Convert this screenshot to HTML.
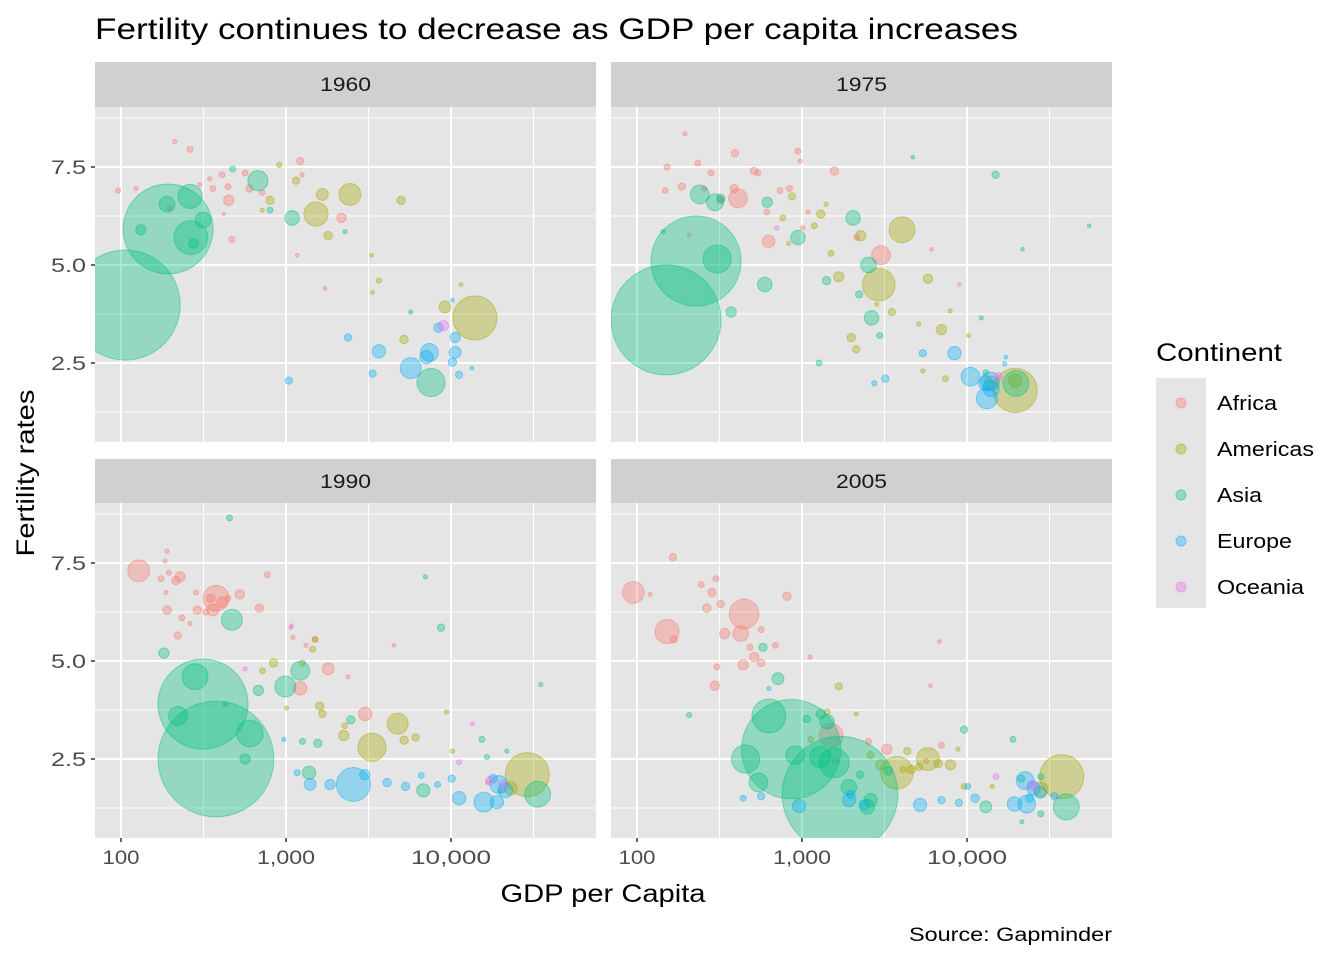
<!DOCTYPE html>
<html><head><meta charset="utf-8"><style>
body{margin:0;background:#fff;font-family:"Liberation Sans",Arial,sans-serif}
svg text{font-family:"Liberation Sans",Arial,sans-serif}
</style></head><body>
<svg id="c" width="1344" height="960" xmlns="http://www.w3.org/2000/svg">
<text x="95" y="39" font-size="30" fill="#000" textLength="923" lengthAdjust="spacingAndGlyphs">Fertility continues to decrease as GDP per capita increases</text>
<text transform="translate(34,473) rotate(-90)" text-anchor="middle" font-size="25" fill="#000" textLength="167" lengthAdjust="spacingAndGlyphs">Fertility rates</text>
<text x="603" y="902" text-anchor="middle" font-size="25" fill="#000" textLength="205" lengthAdjust="spacingAndGlyphs">GDP per Capita</text>
<text x="1112" y="941" text-anchor="end" font-size="19" fill="#000" textLength="203" lengthAdjust="spacingAndGlyphs">Source: Gapminder</text>
<g id="legend">
<text x="1156" y="361" font-size="25" fill="#000" textLength="126" lengthAdjust="spacingAndGlyphs">Continent</text>
</g>
</svg>
<script>
const continents=["Africa","Americas","Asia","Europe","Oceania"];
const colors=["#F8766D","#A3A500","#00BF7D","#00B0F6","#E76BF3"];
const years=["1960","1975","1990","2005"];
const xTicks=[100,1000,10000];
const xTickLabels=["100","1,000","10,000"];
const yTicks=[2.5,5.0,7.5];
const yTickLabels=["2.5","5.0","7.5"];
// 1960
const gdp1960=[212,262,96,123,300,360,410,445,565,600,450,717,1220,1250,2170,470,1720,1170,345,198,1520,2440,1660,1150,910,800,717,1800,4990,3660,3300,3350,5190,9200,13960,11500,106,193,265,262,314,190,132,676,1090,275,475,800,2280,5700,7570,2380,3660,3350,5700,7400,7100,10600,10600,8400,11200,10200,13400,1040,10200,9000,420];
const fert1960=[8.15,7.95,6.9,6.95,7.05,6.95,7.3,7.0,7.35,6.95,6.65,6.85,7.65,7.3,6.2,5.65,4.4,5.25,7.2,6.45,6.3,6.8,6.8,7.15,7.55,6.65,6.4,5.75,6.65,4.6,5.25,4.3,3.1,3.93,3.65,4.5,3.98,5.92,5.7,6.75,6.15,6.55,5.9,7.15,6.2,5.55,7.45,6.4,5.85,3.8,2.0,3.15,2.8,2.23,2.37,2.77,2.65,2.77,3.15,3.4,2.2,2.52,2.37,2.05,4.1,3.45,6.3];
const cont1960=[0,0,0,0,0,0,0,0,0,0,0,0,0,0,0,0,0,0,0,0,1,1,1,1,1,1,1,1,1,1,1,1,1,1,1,1,2,2,2,2,2,2,2,2,2,2,2,2,2,2,2,3,3,3,3,3,3,3,3,3,3,3,3,3,3,4,4];
const pop1960=[1,2,1.5,1,1,2,2,2,2,3,6,2,3,1,5,2,0.8,0.5,1,2,33,27,8,3,1.5,4,1,4,4,1.5,0.8,0.5,4,8,110,0.5,686,459,65,33,14,14,6,23,12,5,2,2,1,1,45,3,10,3,25,18,10,8,6,5,3,4,0.5,3,0.5,6,0.5];
// 1975
const gdp1975=[195,152,148,187,234,281,392,410,388,512,540,612,627,945,975,735,840,1570,1010,1090,6090,207,255,322,3010,2150,4040,2920,2270,1500,1300,870,765,830,1190,1400,1670,1990,2130,3500,5100,7000,5800,7900,10200,14000,19600,19600,2840,5400,7400,150,228,306,240,297,322,615,945,2040,2530,2640,595,372,1410,2220,1270,2960,4700,14900,55000,21700,12200,13000,19800,144,8400,10500,13200,13800,13000,14000,5400,3200,2740,17200,16900,705,9000,15500];
const fert1975=[8.35,7.5,6.9,7.0,7.6,7.35,7.85,6.7,6.95,7.4,7.35,6.35,5.6,7.9,7.65,6.9,6.95,7.4,5.95,6.35,5.4,5.77,6.95,6.65,5.25,5.7,5.9,4.5,5.75,5.3,6.3,6.75,6.2,5.55,6.0,6.55,4.7,3.15,2.85,3.8,3.5,3.35,4.65,3.83,3.2,2.0,1.8,2.05,4.0,2.3,2.1,3.6,5.1,5.15,6.8,6.6,6.7,6.6,5.7,6.2,5.0,3.65,4.5,3.8,4.6,4.25,2.5,3.2,7.75,7.3,6.0,5.4,3.65,2.25,1.98,5.85,2.75,2.15,1.6,2.03,1.98,1.85,2.75,2.1,1.98,2.65,2.48,5.95,4.5,2.15];
const cont1975=[0,0,0,0,0,0,0,0,0,0,0,0,0,0,0,0,0,0,0,0,0,0,0,0,0,0,1,1,1,1,1,1,1,1,1,1,1,1,1,1,1,1,1,1,1,1,1,1,1,1,1,2,2,2,2,2,2,2,2,2,2,2,2,2,2,2,2,2,2,2,2,2,2,2,2,2,3,3,3,3,3,3,3,3,3,3,3,4,4,4];
const pop1975=[1,2,2,3,2,2,3,20,4,3,2,2,9,2,1,2,2,4,1,1,0.5,0.5,1.5,3,20,2,38,60,6,2,4,3,2,1,2,1,6,4,3,3,1,6,5,1,1,10,110,10,1,1,2,686,460,45,20,16,4,6,12,12,14,12,12,6,4,3,2,2,0.5,3,0.5,0.5,1,2,38,1,10,20,25,20,12,15,3,3,1.5,0.5,1,1,0.5,4];
// 1990
const gdp1990=[128,190,185,195,175,228,215,187,285,190,234,290,327,361,350,410,525,377,690,770,445,221,262,1080,1100,1320,1800,1220,1500,3020,2380,4500,16700,3320,4750,5200,2240,1600,1660,1500,1450,1260,840,720,1010,2270,6100,29000,23000,19800,10200,9400,376,314,281,221,470,605,680,990,1220,455,182,565,427,1560,1260,1380,2470,6800,8700,7000,33500,15400,21800,35000,16500,2560,1400,1850,3000,4100,5300,6600,11200,15800,19000,19500,21400,18000,8300,1170,970,10100,565,1070,13500,11200,17200,20600];
const fert1990=[7.3,7.8,7.55,7.25,7.1,7.15,7.05,6.75,6.75,6.3,6.1,6.3,6.25,6.3,6.6,6.5,6.7,6.6,6.35,7.2,6.6,5.65,5.95,5.9,5.6,5.4,4.8,4.3,5.55,3.65,4.6,5.4,1.9,2.8,3.4,2.98,3.1,3.85,3.65,5.55,5.3,4.95,4.95,4.75,3.8,3.35,3.05,2.1,1.75,1.7,2.7,3.7,2.5,3.9,4.6,3.6,6.05,3.15,4.25,4.35,4.75,8.65,5.2,2.5,3.9,2.9,2.95,2.15,3.5,1.7,5.85,7.15,1.6,3.0,2.7,4.4,2.55,1.85,1.85,1.85,2.1,1.9,1.8,2.08,1.5,1.4,1.4,1.85,1.7,2.0,1.85,2.15,3.0,2.0,4.8,5.85,3.4,2.42,1.95,1.85];
const cont1990=[0,0,0,0,0,0,0,0,0,0,0,0,0,0,0,0,0,0,0,0,0,0,0,0,0,0,0,0,0,0,0,0,0,1,1,1,1,1,1,1,1,1,1,1,1,1,1,1,1,1,1,1,2,2,2,2,2,2,2,2,2,2,2,2,2,2,2,2,2,2,2,2,2,2,2,2,2,3,3,3,3,3,3,3,3,3,3,3,3,3,3,3,3,3,4,4,4,4,4,4];
const pop1990=[27,1,1,1.5,2,6,4,1,1.5,4,2,4,2,8,4,6,5,38,4,2,2,3,1,0.5,1,1,8,10,1.5,10,1,0.5,1,45,25,4,6,4,3,2,2,2,4,2,1,2,3,110,10,1,1,1,760,460,38,20,25,40,6,25,20,2,6,6,1,4,2,10,4,10,3,1,38,2,1,1,1.5,65,8,6,6,4,4,2,10,22,10,18,12,4,2,2,1,3,1,0.3,0.3,1.5,4,4];
// 2005
const gdp2005=[95,120,165,152,167,245,300,285,265,322,446,425,340,305,296,440,513,565,484,810,690,565,1120,1500,1600,2530,3270,6800,6000,7000,5650,3760,5800,6700,7950,9600,37500,28000,2600,3000,4600,4340,5140,1670,2130,1420,1130,4100,14200,8820,1700,860,1570,630,455,545,910,1290,1420,1300,715,580,1070,2610,3340,2250,1920,2490,9600,19000,40000,21300,28000,13000,28000,21500,207,960,1930,2380,5200,7000,8930,11200,19400,23000,22500,25300,27800,33800,24000,440,565,1980,10100,630,15000,25000];
const fert2005=[6.75,6.7,7.65,5.75,5.55,6.95,7.1,6.75,6.35,6.45,6.2,5.7,5.7,4.85,4.37,4.9,5.1,4.95,5.35,6.65,5.4,5.8,5.1,3.1,2.45,2.95,2.75,5.5,4.37,2.85,2.45,2.15,2.5,2.38,2.35,1.8,2.05,1.72,2.6,2.35,2.23,2.7,2.3,4.35,3.65,3.7,3.0,2.23,1.8,2.75,1.6,2.75,2.4,3.6,2.5,1.9,2.6,2.55,3.45,3.65,4.55,5.35,3.52,1.45,2.2,2.1,1.78,1.28,3.25,3.0,1.28,2.0,2.05,1.28,1.1,0.9,3.62,1.3,1.45,1.33,1.33,1.45,1.38,1.5,1.35,1.35,1.95,1.75,1.65,1.55,1.5,1.5,1.55,1.6,1.8,4.3,2.05,1.82];
const cont2005=[0,0,0,0,0,0,0,0,0,0,0,0,0,0,0,0,0,0,0,0,0,0,0,0,0,0,0,0,0,0,0,1,1,1,1,1,1,1,1,1,1,1,1,1,1,1,1,1,1,1,2,2,2,2,2,2,2,2,2,2,2,2,2,2,2,2,2,2,2,2,2,2,2,2,2,2,2,3,3,3,3,3,3,3,3,3,3,3,3,3,3,3,3,3,3,3,4,4,4];
const pop2005=[27,1,3,33,3,2,2,4,4,3,50,14,6,2,5,6,5,3,2,4,2,2,1,33,3,2,6,0.5,0.5,2,1.5,60,30,4,6,2,110,12,3,6,4,3,3,3,1,2,2,2,1,1,760,560,50,65,45,20,20,25,12,5,8,4,3,10,4,3,14,12,3,2,38,3,2,8,2,1,1.5,10,10,6,10,3,3,4,12,18,18,10,8,3,4,2,3,4,2,1,2,6];

const NS="http://www.w3.org/2000/svg";
const svg=document.getElementById('c');
function mk(tag,attrs,parent){const e=document.createElementNS(NS,tag);for(const k in attrs)e.setAttribute(k,attrs[k]);(parent||svg).appendChild(e);return e;}
const xLabelW=[37,58,80];
const legendW=[60,97,45,75,87];
const panels=[
 {x:95,y:107,strip:62,gdp:gdp1960,fert:fert1960,cont:cont1960,pop:pop1960,xt:false,yt:true},
 {x:611,y:107,strip:62,gdp:gdp1975,fert:fert1975,cont:cont1975,pop:pop1975,xt:false,yt:false},
 {x:95,y:503,strip:459,gdp:gdp1990,fert:fert1990,cont:cont1990,pop:pop1990,xt:true,yt:true},
 {x:611,y:503,strip:459,gdp:gdp2005,fert:fert2005,cont:cont2005,pop:pop2005,xt:true,yt:false}];
const PW=501,PH=335;
panels.forEach((p,i)=>{
 const g=mk('g',{});
 
 
 const xs=v=>p.x+26+(Math.log10(v)-2)*165;
 const ys=v=>p.y+60-(v-7.5)*39.2;
 const st=mk('rect',{x:p.x,y:p.strip,width:PW,height:45,fill:'#D0D0D0'},g);
 
 
 const stt=mk('text',{x:p.x+PW/2,y:p.strip+29,'text-anchor':'middle','font-size':19,fill:'#1a1a1a',textLength:51,lengthAdjust:'spacingAndGlyphs'},g);
 stt.textContent=years[i];
 
 
 const bg=mk('rect',{x:p.x,y:p.y,width:PW,height:PH,fill:'#E5E5E5'},g);
 
 
 [1.25,3.75,6.25,8.75].forEach(v=>{const l=mk('line',{x1:p.x,x2:p.x+PW,y1:ys(v),y2:ys(v),stroke:'#fff','stroke-width':1},g);});
 [316.2,3162,31623].forEach(v=>{const l=mk('line',{x1:xs(v),x2:xs(v),y1:p.y,y2:p.y+PH,stroke:'#fff','stroke-width':1},g);});
 yTicks.forEach((v,k)=>{const l=mk('line',{x1:p.x,x2:p.x+PW,y1:ys(v),y2:ys(v),stroke:'#fff','stroke-width':2},g);
  if(p.yt){const t=mk('line',{x1:p.x-4,x2:p.x,y1:ys(v),y2:ys(v),stroke:'#333','stroke-width':1.5},g);
   const tx=mk('text',{x:p.x-9,y:ys(v)+7,'text-anchor':'end','font-size':19,fill:'#4d4d4d',textLength:35,lengthAdjust:'spacingAndGlyphs'},g);tx.textContent=yTickLabels[k];}});
 xTicks.forEach((v,k)=>{const l=mk('line',{x1:xs(v),x2:xs(v),y1:p.y,y2:p.y+PH,stroke:'#fff','stroke-width':2},g);
  if(p.xt){const t=mk('line',{x1:xs(v),x2:xs(v),y1:p.y+PH,y2:p.y+PH+4,stroke:'#333','stroke-width':1.5},g);
   const tx=mk('text',{x:xs(v),y:p.y+PH+26,'text-anchor':'middle','font-size':19,fill:'#4d4d4d',textLength:xLabelW[k],lengthAdjust:'spacingAndGlyphs'},g);tx.textContent=xTickLabels[k];}});
 const cp=mk('clipPath',{id:'cp'+i},g);mk('rect',{x:p.x,y:p.y,width:PW,height:PH},cp);
 const pts=mk('g',{'clip-path':'url(#cp'+i+')'},g);
 p.gdp.forEach((v,j)=>{const c=mk('circle',{cx:xs(v),cy:ys(p.fert[j]),r:Math.max(1.8,2.1*Math.sqrt(p.pop[j])),fill:colors[p.cont[j]],'fill-opacity':0.35,stroke:colors[p.cont[j]],'stroke-opacity':0.45,'stroke-width':1},pts);
  
  });
});
const lg=document.getElementById('legend');
const kb=mk('rect',{x:1156,y:378,width:50,height:230,fill:'#E5E5E5'},lg);


continents.forEach((n,k)=>{const y=403+k*46;
 const c=mk('circle',{cx:1181,cy:y,r:5,fill:colors[k],'fill-opacity':0.35,stroke:colors[k],'stroke-opacity':0.5},lg);
 
 
 const t=mk('text',{x:1217,y:y+7,'font-size':20,fill:'#000',textLength:legendW[k],lengthAdjust:'spacingAndGlyphs'},lg);t.textContent=n;
 
 });
</script>
</body></html>
